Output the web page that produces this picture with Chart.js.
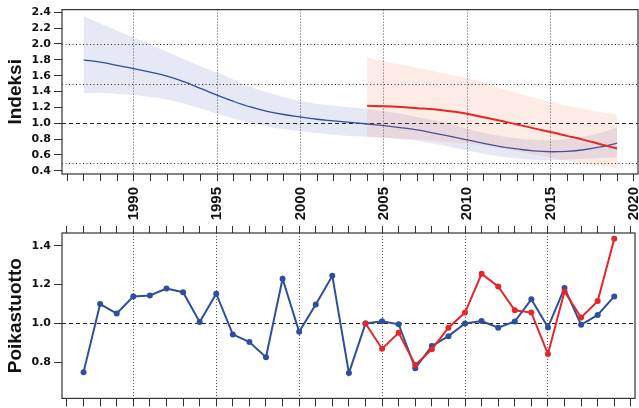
<!DOCTYPE html>
<html>
<head>
<meta charset="utf-8">
<script src="https://cdn.jsdelivr.net/npm/chart.js@4.4.1/dist/chart.umd.min.js"></script>
<style>
    body { margin: 0; background: #fff; }
    #wrap { position: relative; width: 639px; height: 408px; }
    canvas { position: absolute; left: 0; }
    #indeksi { top: 0; }
    #poikas { top: 222px; }
</style>
</head>
<body>
<div id="wrap">
    <canvas id="indeksi" width="639" height="222"></canvas>
    <canvas id="poikas" width="639" height="186"></canvas>
</div>
<script>

// Vuodet
const vuodet = [1987, 1988, 1989, 1990, 1991, 1992, 1993, 1994, 1995, 1996, 1997, 1998, 1999, 2000, 2001, 2002, 2003,
    2004, 2005, 2006, 2007, 2008, 2009, 2010, 2011, 2012, 2013, 2014, 2015, 2016, 2017, 2018, 2019];
const vuodetPun = [2004, 2005, 2006, 2007, 2008, 2009, 2010, 2011, 2012, 2013, 2014, 2015, 2016, 2017, 2018, 2019];

// Indeksi, sininen tasoitettu käyrä ja luottamusväli
const indeksiSin = [1.80, 1.77, 1.73, 1.69, 1.645, 1.595, 1.525, 1.44, 1.355, 1.275, 1.205, 1.15, 1.11, 1.08, 1.05, 1.03, 1.01,
    0.99, 0.97, 0.945, 0.915, 0.875, 0.835, 0.79, 0.745, 0.705, 0.675, 0.65, 0.64, 0.645, 0.665, 0.70, 0.75];
const ylaSin = [2.35, 2.26, 2.17, 2.08, 1.99, 1.90, 1.81, 1.72, 1.64, 1.55, 1.46, 1.39, 1.33, 1.28, 1.245, 1.22, 1.20,
    1.18, 1.15, 1.12, 1.08, 1.04, 0.99, 0.93, 0.88, 0.84, 0.81, 0.79, 0.785, 0.80, 0.83, 0.88, 0.95];
const alaSin = [1.38, 1.38, 1.37, 1.355, 1.33, 1.30, 1.25, 1.19, 1.12, 1.06, 1.00, 0.96, 0.925, 0.90, 0.875, 0.855, 0.84,
    0.83, 0.82, 0.80, 0.78, 0.745, 0.70, 0.655, 0.615, 0.58, 0.555, 0.54, 0.535, 0.54, 0.55, 0.56, 0.57];

// Indeksi, punainen
const indeksiPun = [1.22, 1.215, 1.205, 1.19, 1.175, 1.15, 1.12, 1.075, 1.03, 0.985, 0.935, 0.89, 0.84, 0.79, 0.735, 0.68];
const ylaPun = [1.83, 1.785, 1.74, 1.70, 1.655, 1.61, 1.57, 1.51, 1.44, 1.38, 1.32, 1.27, 1.22, 1.18, 1.14, 1.11];
const alaPun = [0.82, 0.815, 0.805, 0.795, 0.78, 0.76, 0.74, 0.72, 0.685, 0.645, 0.605, 0.565, 0.53, 0.49, 0.46, 0.43];

// Poikastuotto
const poikasSin = [0.75, 1.10, 1.051, 1.139, 1.144, 1.18, 1.161, 1.008, 1.153, 0.944, 0.905, 0.827, 1.23, 0.957, 1.097,
    1.245, 0.745, 1.0, 1.012, 0.996, 0.77, 0.884, 0.935, 1.0, 1.013, 0.978, 1.01, 1.124, 0.98, 1.182, 0.993, 1.044, 1.139];
const poikasPun = [1.0, 0.87, 0.952, 0.787, 0.867, 0.978, 1.056, 1.255, 1.19, 1.068, 1.056, 0.843, 1.165, 1.031, 1.115, 1.435];

// Apuviivat
const pisteviivatYla = [0.5, 1.5, 2.0];
const katkoviiva = 1.0;

const SININEN = '#2d4f9e';
const PUNAINEN = '#e5262b';

const pisteet = (xs, ys) => xs.map((x, i) => ({ x: x, y: ys[i] }));

// Pystyviivat vain viiden vuoden välein
const pystyviiva = (c) => (c.tick && c.tick.value % 5 === 0 && c.tick.value < 2020) ? '#555' : 'rgba(0,0,0,0)';

const viivat = {
    id: 'viivat',
    beforeDatasetsDraw(chart, args, opts) {
        const { ctx, chartArea: a, scales: { y } } = chart;
        ctx.save();
        ctx.strokeStyle = '#222';
        ctx.lineWidth = 1;
        ctx.setLineDash([1, 2.5]);
        opts.pisteet.forEach(v => {
            const py = Math.round(y.getPixelForValue(v)) + 0.5;
            ctx.beginPath(); ctx.moveTo(a.left, py); ctx.lineTo(a.right, py); ctx.stroke();
        });
        ctx.setLineDash([4, 3]);
        ctx.lineWidth = 1.2;
        const py = Math.round(y.getPixelForValue(opts.katko)) + 0.5;
        ctx.beginPath(); ctx.moveTo(a.left, py); ctx.lineTo(a.right, py); ctx.stroke();
        ctx.restore();
    },
    afterDraw(chart) {
        const { ctx, chartArea: a } = chart;
        ctx.save();
        ctx.strokeStyle = '#333';
        ctx.lineWidth = 1.2;
        ctx.strokeRect(a.left, a.top, a.right - a.left, a.bottom - a.top);
        ctx.restore();
    }
};

const tickFontti = { family: 'DejaVu Sans', size: 11, weight: 'bold' };
const otsikkoFontti = { family: 'Liberation Sans', size: 19, weight: 'bold' };

// tasoitettu käyrä
const kayra = { pointRadius: 0, tension: 0.4, fill: false };

// Ylempi kuva: indeksi
new Chart(document.getElementById('indeksi'), {
    type: 'line',
    data: {
        datasets: [
            { ...kayra, data: pisteet(vuodetPun, indeksiPun), borderColor: PUNAINEN, borderWidth: 2 },
            { ...kayra, data: pisteet(vuodetPun, ylaPun), borderWidth: 0, fill: '+1', backgroundColor: 'rgba(240,110,60,0.13)' },
            { ...kayra, data: pisteet(vuodetPun, alaPun), borderWidth: 0 },
            { ...kayra, data: pisteet(vuodet, indeksiSin), borderColor: SININEN, borderWidth: 1.3 },
            { ...kayra, data: pisteet(vuodet, ylaSin), borderWidth: 0, fill: '+1', backgroundColor: 'rgba(40,50,170,0.115)' },
            { ...kayra, data: pisteet(vuodet, alaSin), borderWidth: 0 }
        ]
    },
    options: {
        responsive: false,
        animation: false,
        events: [],
        layout: { padding: { top: 8, right: 1, left: 0, bottom: 0 } },
        plugins: {
            legend: { display: false },
            tooltip: { enabled: false },
            viivat: { pisteet: pisteviivatYla, katko: katkoviiva }
        },
        scales: {
            x: {
                type: 'linear',
                min: 1985.7,
                max: 2020.25,
                ticks: {
                    stepSize: 1, autoSkip: false, includeBounds: false,
                    minRotation: 90, maxRotation: 90, padding: 6,
                    color: '#111',
                    font: { family: 'Liberation Sans', size: 15, weight: 'bold' },
                    callback: v => v % 5 === 0 ? String(v) : ''
                },
                grid: { color: pystyviiva, tickColor: '#333', tickLength: 7, tickBorderDash: [], lineWidth: 1 },
                border: { display: false, dash: [1, 2] },
                afterFit: s => { s.height = 48; s.paddingLeft = 0; s.paddingRight = 0; }
            },
            y: {
                min: 0.359,
                max: 2.434,
                ticks: {
                    stepSize: 0.2, includeBounds: false, padding: 3,
                    color: '#111', font: tickFontti,
                    callback: v => v.toFixed(1)
                },
                grid: { drawOnChartArea: false, tickLength: 8, tickColor: '#333' },
                border: { display: false },
                title: { display: true, text: 'Indeksi', color: '#111', font: otsikkoFontti, padding: { top: 4, bottom: 0 } },
                afterFit: s => { s.width = 62; }
            }
        }
    },
    plugins: [viivat]
});

// Alempi kuva: poikastuotto
new Chart(document.getElementById('poikas'), {
    type: 'line',
    data: {
        datasets: [
            { data: pisteet(vuodetPun, poikasPun), borderColor: PUNAINEN, backgroundColor: PUNAINEN, borderWidth: 2, pointRadius: 3, pointBorderWidth: 0, tension: 0 },
            { data: pisteet(vuodet, poikasSin), borderColor: SININEN, backgroundColor: SININEN, borderWidth: 2, pointRadius: 3, pointBorderWidth: 0, tension: 0 }
        ]
    },
    options: {
        responsive: false,
        animation: false,
        events: [],
        layout: { padding: { top: 0, right: 1, left: 0, bottom: 0 } },
        plugins: {
            legend: { display: false },
            tooltip: { enabled: false },
            viivat: { pisteet: [], katko: katkoviiva }
        },
        scales: {
            x: {
                type: 'linear',
                min: 1985.7,
                max: 2020.25,
                ticks: { display: false, stepSize: 1, autoSkip: false, includeBounds: false },
                grid: { color: pystyviiva, tickColor: '#333', tickLength: 8, tickBorderDash: [], lineWidth: 1 },
                border: { display: false, dash: [1, 2] },
                afterFit: s => { s.height = 9; s.paddingLeft = 0; s.paddingRight = 0; }
            },
            x2: {
                type: 'linear',
                position: 'top',
                min: 1985.7,
                max: 2020.25,
                ticks: { display: false, stepSize: 1, autoSkip: false, includeBounds: false },
                grid: { drawOnChartArea: false, tickColor: '#333', tickLength: 7 },
                border: { display: false },
                afterFit: s => { s.height = 11; s.paddingLeft = 0; s.paddingRight = 0; }
            },
            y: {
                min: 0.615,
                max: 1.465,
                ticks: {
                    stepSize: 0.2, includeBounds: false, padding: 3,
                    color: '#111', font: tickFontti,
                    callback: v => v.toFixed(1)
                },
                grid: { drawOnChartArea: false, tickLength: 8, tickColor: '#333' },
                border: { display: false },
                title: { display: true, text: 'Poikastuotto', color: '#111', font: otsikkoFontti, padding: { top: 4, bottom: 0 } },
                afterFit: s => { s.width = 62; }
            }
        }
    },
    plugins: [viivat]
});

</script>
</body>
</html>
